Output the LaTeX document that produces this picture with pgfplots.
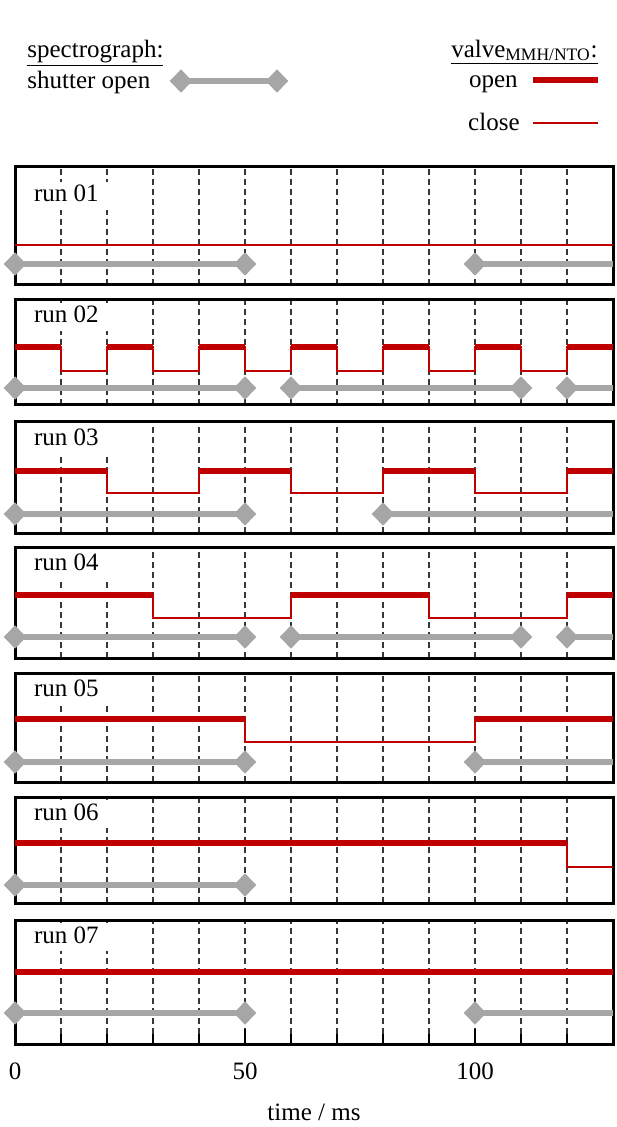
\documentclass[border=0pt]{standalone}
\usepackage{pgfplots}
\pgfplotsset{compat=1.18}
\usepackage{fontspec}
\setmainfont{Liberation Serif}

\definecolor{valvered}{RGB}{192,0,0}
\definecolor{shuttergrey}{RGB}{166,166,166}
\definecolor{gridgrey}{RGB}{55,55,55}

\tikzset{
  runlabel/.style={anchor=base west, fill=white, inner xsep=5pt, inner ysep=3pt,
    outer sep=0pt, text height=7pt, text depth=1pt, xshift=4.5pt, yshift=-11.5pt},
}
\pgfplotsset{
  every axis/.append style={font=\fontsize{12.5}{15}\selectfont},
  panel/.style={
    scale only axis, width=299pt, xmin=0, xmax=130, ymin=0,
    anchor=north west, clip=false,
    axis line style={black, line width=1.5pt},
    ytick=\empty,
    xtick={10,20,...,120}, xticklabels={}, major tick length=0pt,
    xmajorgrids,
    major grid style={gridgrey, line width=0.55pt, dash pattern=on 2.8pt off 2.2pt},
  },
  open/.style={valvered, line width=3pt, unbounded coords=jump},
  close/.style={valvered, line width=0.8pt, const plot},
  shutter/.style={shuttergrey, line width=2.8pt, mark=diamond*, mark size=3.8pt,
    mark options={solid, xscale=1.3, fill=shuttergrey, draw=none}},
}

\begin{document}
\begin{tikzpicture}

% headings and key (coordinates in pixels, y downwards)
\begin{axis}[scale only axis, width=308pt, height=563.5pt,
  xmin=0, xmax=616, ymin=0, ymax=1127, y dir=reverse,
  axis lines=none, clip=false, at={(0,0)}, anchor=north west]
  \path (axis cs:0,0) rectangle (axis cs:616,1127);
  \node[anchor=base west, inner sep=0pt] at (axis cs:27,57) {\underline{spectrograph:}};
  \node[anchor=base east, inner sep=0pt] at (axis cs:598,57) {\underline{valve\textsubscript{MMH/NTO}:}};
  \node[anchor=base west, inner sep=0pt] at (axis cs:27,88) {shutter open};
  \node[anchor=base east, inner sep=0pt] at (axis cs:518,87) {open};
  \node[anchor=base east, inner sep=0pt] at (axis cs:520,130) {close};
  \addplot[shutter] coordinates {(181,81) (277,81)};
  \addplot[valvered, line width=3pt] coordinates {(533,80) (598,80)};
  \addplot[valvered, line width=0.8pt] coordinates {(533,123) (598,123)};
  \node[anchor=base, inner sep=0pt] at (axis cs:314,1120) {time / ms};
\end{axis}

% run 01
\begin{axis}[panel, at={(7.5pt,-83.5pt)}, height=59pt, ymax=118]
  \node[runlabel, yshift=-6pt] at (rel axis cs:0,1) {run 01};
  \addplot[close] coordinates {(0,40) (130,40)};
  \addplot[shutter] coordinates {(0,21) (50,21)};
  \addplot[shutter, mark indices={1}] coordinates {(100,21) (130,21)};
\end{axis}

% run 02
\begin{axis}[panel, at={(7.5pt,-150pt)}, height=52.5pt, ymax=105]
  \node[runlabel] at (rel axis cs:0,1) {run 02};
  \addplot[close] coordinates {(0,58) (10,34) (20,58) (30,34) (40,58) (50,34) (60,58)
    (70,34) (80,58) (90,34) (100,58) (110,34) (120,58) (130,58)};
  \addplot[open] coordinates {(0,58) (10,58) (10,nan) (20,58) (30,58) (30,nan)
    (40,58) (50,58) (50,nan) (60,58) (70,58) (70,nan) (80,58) (90,58) (90,nan)
    (100,58) (110,58) (110,nan) (120,58) (130,58)};
  \addplot[shutter] coordinates {(0,17) (50,17)};
  \addplot[shutter] coordinates {(60,17) (110,17)};
  \addplot[shutter, mark indices={1}] coordinates {(120,17) (130,17)};
\end{axis}

% run 03
\begin{axis}[panel, at={(7.5pt,-211pt)}, height=55.5pt, ymax=111]
  \node[runlabel] at (rel axis cs:0,1) {run 03};
  \addplot[close] coordinates {(0,62) (20,40) (40,62) (60,40) (80,62) (100,40)
    (120,62) (130,62)};
  \addplot[open] coordinates {(0,62) (20,62) (20,nan) (40,62) (60,62) (60,nan)
    (80,62) (100,62) (100,nan) (120,62) (130,62)};
  \addplot[shutter] coordinates {(0,19) (50,19)};
  \addplot[shutter, mark indices={1}] coordinates {(80,19) (130,19)};
\end{axis}

% run 04
\begin{axis}[panel, at={(7.5pt,-273.5pt)}, height=55.5pt, ymax=111]
  \node[runlabel] at (rel axis cs:0,1) {run 04};
  \addplot[close] coordinates {(0,63) (30,40) (60,63) (90,40) (120,63) (130,63)};
  \addplot[open] coordinates {(0,63) (30,63) (30,nan) (60,63) (90,63) (90,nan)
    (120,63) (130,63)};
  \addplot[shutter] coordinates {(0,21) (50,21)};
  \addplot[shutter] coordinates {(60,21) (110,21)};
  \addplot[shutter, mark indices={1}] coordinates {(120,21) (130,21)};
\end{axis}

% run 05
\begin{axis}[panel, at={(7.5pt,-336.5pt)}, height=54.5pt, ymax=109]
  \node[runlabel] at (rel axis cs:0,1) {run 05};
  \addplot[close] coordinates {(0,63) (50,40) (100,63) (130,63)};
  \addplot[open] coordinates {(0,63) (50,63) (50,nan) (100,63) (130,63)};
  \addplot[shutter] coordinates {(0,20) (50,20)};
  \addplot[shutter, mark indices={1}] coordinates {(100,20) (130,20)};
\end{axis}

% run 06
\begin{axis}[panel, at={(7.5pt,-398.5pt)}, height=53pt, ymax=106]
  \node[runlabel] at (rel axis cs:0,1) {run 06};
  \addplot[close] coordinates {(0,60) (120,36) (130,36)};
  \addplot[open] coordinates {(0,60) (120,60)};
  \addplot[shutter] coordinates {(0,18) (50,18)};
\end{axis}

% run 07, carries the time axis
\begin{axis}[panel, at={(7.5pt,-460pt)}, height=62pt, ymax=124,
  xtick={0,50,100}, xticklabels={0,50,100},
  minor xtick={10,20,30,40,60,70,80,90,110,120},
  xminorgrids,
  minor grid style={gridgrey, line width=0.55pt, dash pattern=on 2.8pt off 2.2pt},
  xtick pos=bottom, xtick align=inside,
  major tick length=7.5pt, minor tick length=5pt,
  tick style={black, line width=1.3pt},
  xticklabel shift=6pt]
  \node[runlabel] at (rel axis cs:0,1) {run 07};
  \addplot[open] coordinates {(0,72) (130,72)};
  \addplot[shutter] coordinates {(0,31) (50,31)};
  \addplot[shutter, mark indices={1}] coordinates {(100,31) (130,31)};
\end{axis}

\end{tikzpicture}
\end{document}
